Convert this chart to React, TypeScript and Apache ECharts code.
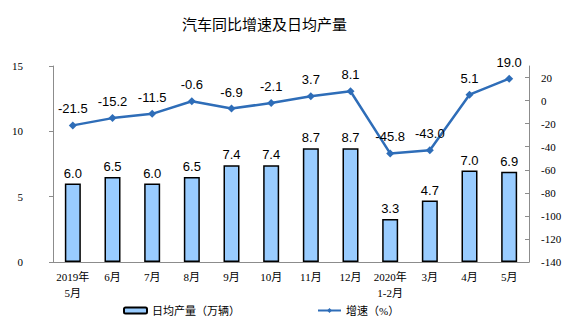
import React, { useEffect, useRef } from "react";
import * as echarts from "echarts";

const categories = [
  "2019年\n5月", "6月", "7月", "8月", "9月", "10月", "11月", "12月",
  "2020年\n1-2月", "3月", "4月", "5月",
];
const dailyOutput = [6.0, 6.5, 6.0, 6.5, 7.4, 7.4, 8.7, 8.7, 3.3, 4.7, 7.0, 6.9];
const growthRate = [-21.5, -15.2, -11.5, -0.6, -6.9, -2.1, 3.7, 8.1, -45.8, -43.0, 5.1, 19.0];
const rightTicks = [-140, -120, -100, -80, -60, -40, -20, 0, 20];

const BAR_NAME = "日均产量（万辆）";
const LINE_NAME = "增速（%）";
const serif = "'Liberation Serif', 'Times New Roman', 'Noto Sans CJK SC', serif";
const sans = "'Liberation Sans', Arial, 'Noto Sans CJK SC', sans-serif";

export default function App() {
  const ref = useRef<HTMLDivElement>(null);

  useEffect(() => {
    if (!ref.current) return;
    const chart = echarts.init(ref.current, undefined, { renderer: "svg" });
    chart.setOption({
      animation: false,
      backgroundColor: "#fff",
      title: {
        text: "汽车同比增速及日均产量",
        left: 177,
        top: 11,
        textStyle: {
          fontSize: 15,
          fontWeight: "normal",
          color: "#000",
          fontFamily: "'Noto Sans CJK SC', sans-serif",
        },
      },
      legend: [
        {
          data: [BAR_NAME],
          left: 118,
          top: 300,
          itemWidth: 23,
          itemHeight: 6,
          textStyle: { fontSize: 11, color: "#000", fontFamily: serif },
        },
        {
          data: [LINE_NAME],
          left: 312,
          top: 300,
          itemWidth: 23,
          itemHeight: 6,
          textStyle: { fontSize: 11, color: "#000", fontFamily: serif },
        },
      ],
      grid: { left: 53, right: 46, top: 66, bottom: 65 },
      xAxis: {
        type: "category",
        data: categories,
        axisLine: { lineStyle: { color: "#8c8c8c", width: 1 } },
        axisTick: { inside: true, length: 3, lineStyle: { color: "#8c8c8c" } },
        axisLabel: {
          fontSize: 11,
          color: "#000",
          fontFamily: serif,
          lineHeight: 16,
          margin: 7,
          interval: 0,
        },
      },
      yAxis: [
        {
          type: "value",
          min: 0,
          max: 15,
          interval: 5,
          splitLine: { show: false },
          axisLine: { show: true, lineStyle: { color: "#8c8c8c" } },
          axisTick: { show: true, length: 4, lineStyle: { color: "#8c8c8c" } },
          axisLabel: { fontSize: 11, color: "#000", fontFamily: serif, margin: 30 },
        },
        {
          type: "value",
          min: -140,
          max: 30,
          splitLine: { show: false },
          axisLine: { show: true, lineStyle: { color: "#8c8c8c" } },
          axisTick: {
            show: true,
            inside: true,
            length: 4,
            customValues: rightTicks,
            lineStyle: { color: "#8c8c8c" },
          },
          axisLabel: {
            fontSize: 11,
            color: "#000",
            fontFamily: serif,
            margin: 12,
            customValues: rightTicks,
          },
        },
      ],
      series: [
        {
          name: BAR_NAME,
          type: "bar",
          data: dailyOutput,
          barWidth: 16,
          itemStyle: { color: "#99CCFF", borderColor: "#000", borderWidth: 1.5 },
          label: {
            show: true,
            position: "top",
            distance: 4,
            fontSize: 13,
            color: "#000",
            fontFamily: sans,
            formatter: (p: any) => Number(p.value).toFixed(1),
          },
        },
        {
          name: LINE_NAME,
          type: "line",
          yAxisIndex: 1,
          data: growthRate,
          symbol: "diamond",
          symbolSize: 8,
          lineStyle: { color: "#2E6DB8", width: 2.5 },
          itemStyle: { color: "#2E6DB8" },
          label: {
            show: true,
            position: "top",
            distance: 6,
            fontSize: 13,
            color: "#000",
            fontFamily: sans,
            formatter: (p: any) => Number(p.value).toFixed(1),
          },
        },
      ],
    });
    return () => chart.dispose();
  }, []);

  return (
    <div
      ref={ref}
      style={{ position: "fixed", left: 0, top: 0, width: 575, height: 327, background: "#fff" }}
    />
  );
}
